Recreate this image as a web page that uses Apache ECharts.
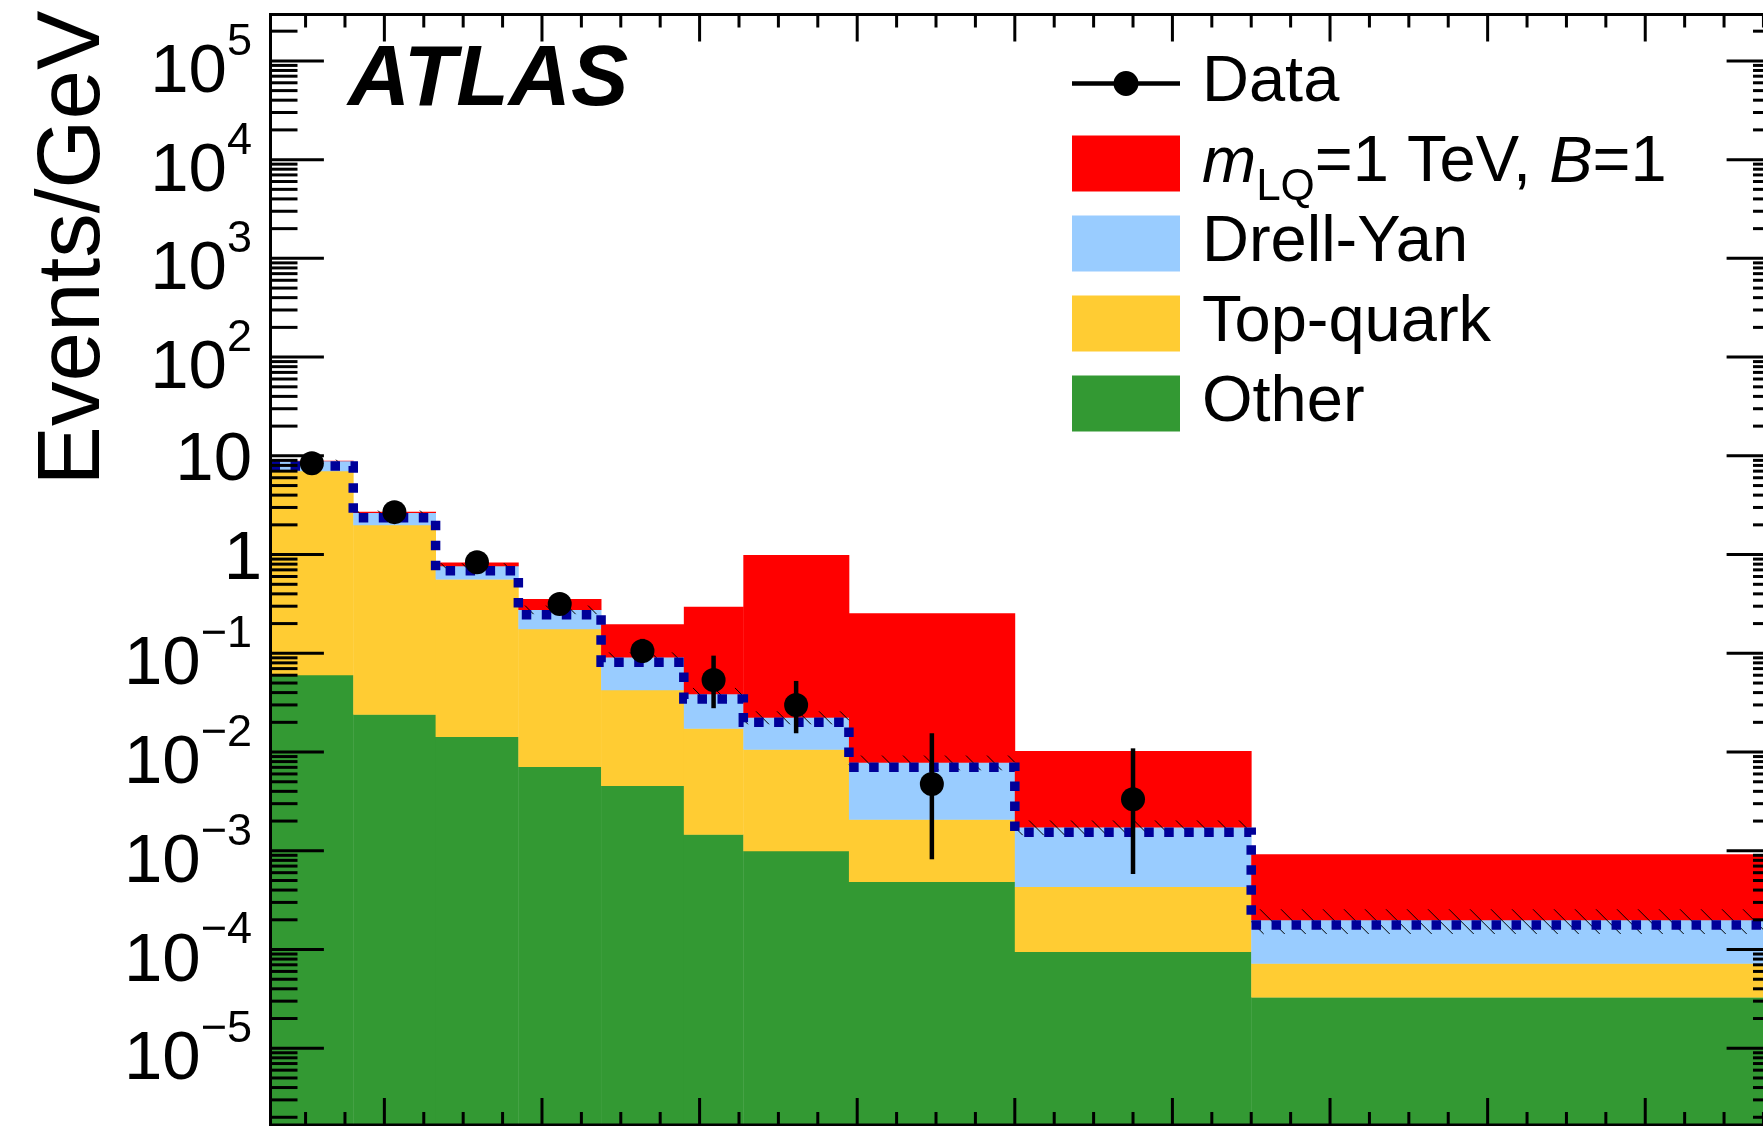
<!DOCTYPE html>
<html>
<head>
<meta charset="utf-8">
<script src="https://cdn.jsdelivr.net/npm/echarts@6/dist/echarts.min.js"></script>
<style>
  html, body { margin: 0; padding: 0; background: #ffffff; }
  #chart { width: 1763px; height: 1126px; }
</style>
</head>
<body>
<div id="chart"></div>
<script>
// ---- histogram binning (GeV) ----
const binEdges = [55.5, 160.5, 265, 370, 475, 580, 655.5, 789.5, 1000, 1300, 1971];

// ---- stacked expectations, events per GeV, bottom to top ----
const other    = [0.0604, 0.0241, 0.0143, 0.00711, 0.00457, 0.00147, 0.000996, 0.000487, 0.0000951, 0.0000329];
const topQuark = [6.98, 1.98, 0.549, 0.170, 0.0380, 0.0159, 0.00968, 0.00160, 0.000338, 0.0000397];
const drellYan = [1.84, 0.654, 0.206, 0.0997, 0.0487, 0.0214, 0.0118, 0.00579, 0.00130, 0.000127];
const signal   = [0.03, 0.05, 0.060, 0.079, 0.106, 0.258, 0.970, 0.247, 0.00854, 0.000723];

// relative uncertainty on the total background (hatched band)
const bkgUncertainty = [0.03, 0.05, 0.06, 0.10, 0.12, 0.15, 0.15, 0.17, 0.17, 0.28];

// ---- observed data, events per GeV, with error bar ends ----
const dataValues  = [8.42, 2.69, 0.837, 0.316, 0.1057, 0.0537, 0.0300, 0.00475, 0.00333, null];
const dataErrLow  = [8.10, 2.50, 0.740, 0.260, 0.080, 0.0278, 0.0155, 0.00082, 0.000582, null];
const dataErrHigh = [8.75, 2.90, 0.940, 0.380, 0.140, 0.0947, 0.0525, 0.0155, 0.0109, null];

// ---- axes ----
const xRange = [55.5, 1971];
const yRange = [1.67e-6, 2.95e5];
const xMinorStep = 50;
const xMajorStep = 200;
const yLabelExponents = [-5, -4, -3, -2, -1, 0, 1, 2, 3, 4, 5];
const yMinorMultipliers = [2, 3, 4, 5, 6, 7, 8, 9];

const FONT = '"Liberation Sans", Arial, Helvetica, sans-serif';
const stackParts  = [other, topQuark, drellYan, signal];
const stackColors = ['#339933', '#ffcc33', '#99ccff', '#ff0000'];
const stackNames  = ['Other', 'Top-quark', 'Drell-Yan', 'mLQ'];

const nBins = binEdges.length - 1;
function stackTop(level, i) {
  let s = 0;
  for (let k = 0; k <= level; k++) s += stackParts[k][i];
  return s;
}
const totalBkg = [];
const binCenters = [];
for (let i = 0; i < nBins; i++) {
  totalBkg.push(stackTop(2, i));
  binCenters.push((binEdges[i] + binEdges[i + 1]) / 2);
}

// stacked histogram fills
const stackSeries = stackParts.map((part, level) => ({
  type: 'custom',
  name: stackNames[level],
  z: 2,
  itemStyle: { color: stackColors[level] },
  data: part.map((v, i) => [binCenters[i], stackTop(level, i), i]),
  renderItem(params, api) {
    const i = api.value(2);
    const lo = level === 0 ? yRange[0] : stackTop(level - 1, i);
    const hi = stackTop(level, i);
    const p0 = api.coord([binEdges[i], lo]);
    const p1 = api.coord([binEdges[i + 1], hi]);
    return {
      type: 'rect',
      shape: { x: p0[0], y: p1[1], width: p1[0] - p0[0] + 0.4, height: p0[1] - p1[1] + 0.4 },
      style: { fill: stackColors[level] }
    };
  }
}));

// hatched uncertainty band around the total background
const hatchSeries = {
  type: 'custom',
  name: 'uncertainty',
  z: 3,
  silent: true,
  data: totalBkg.map((b, i) => [binCenters[i], b, i]),
  renderItem(params, api) {
    const i = api.value(2);
    const b = totalBkg[i], u = bkgUncertainty[i];
    const pa = api.coord([binEdges[i], b * (1 + u)]);
    const pb = api.coord([binEdges[i + 1], b * (1 - u)]);
    const x0 = pa[0], x1 = pb[0], yt = pa[1], yb = pb[1], h = yb - yt;
    const step = 21;
    const children = [];
    for (let c = Math.floor((x0 - h) / step) * step; c < x1; c += step) {
      const xs = Math.max(c, x0), xe = Math.min(c + h, x1);
      if (xe > xs) {
        children.push({
          type: 'line',
          shape: { x1: xs, y1: yt + xs - c, x2: xe, y2: yt + xe - c },
          style: { stroke: '#000000', lineWidth: 1 }
        });
      }
    }
    return { type: 'group', children };
  }
};

// dotted outline of the total background
const outlineSeries = {
  type: 'custom',
  name: 'outline',
  z: 4,
  silent: true,
  data: [[binCenters[0], totalBkg[0], 0]],
  renderItem(params, api) {
    const pts = [];
    for (let i = 0; i < nBins; i++) {
      const a = api.coord([binEdges[i], totalBkg[i]]);
      const b = api.coord([binEdges[i + 1], totalBkg[i]]);
      pts.push([a[0], a[1] + 5], [b[0], b[1] + 5]);
    }
    return {
      type: 'polyline',
      shape: { points: pts },
      style: { stroke: '#000099', lineWidth: 9.5, lineDash: [9.5, 10.5], lineCap: 'butt', lineJoin: 'miter', fill: null }
    };
  }
};

// data error bars
const errorSeries = {
  type: 'custom',
  name: 'errors',
  z: 5,
  silent: true,
  data: dataValues.map((v, i) => [binCenters[i], v, i]).filter(d => d[1] != null),
  renderItem(params, api) {
    const i = api.value(2);
    const a = api.coord([binCenters[i], dataErrHigh[i]]);
    const b = api.coord([binCenters[i], dataErrLow[i]]);
    return {
      type: 'line',
      shape: { x1: a[0], y1: a[1], x2: b[0], y2: b[1] },
      style: { stroke: '#000000', lineWidth: 4.5 }
    };
  }
};

const dataSeries = {
  type: 'scatter',
  name: 'Data',
  z: 6,
  symbol: 'circle',
  symbolSize: 24,
  itemStyle: { color: '#000000', opacity: 1 },
  data: dataValues.map((v, i) => [binCenters[i], v]).filter(d => d[1] != null)
};

// frame with ticks on all four sides
const yTicks = [];
for (let k = -6; k <= 5; k++) {
  [1].concat(yMinorMultipliers).forEach(m => {
    const v = m * Math.pow(10, k);
    if (v >= yRange[0] && v <= yRange[1]) yTicks.push([v, m === 1]);
  });
}
const xTicks = [];
for (let v = Math.ceil(xRange[0] / xMinorStep) * xMinorStep; v <= xRange[1]; v += xMinorStep) {
  xTicks.push([v, v % xMajorStep === 0]);
}

const frameSeries = {
  type: 'custom',
  name: 'frame',
  z: 8,
  silent: true,
  data: [[xRange[0], yRange[0], 0]],
  renderItem(params, api) {
    const tl = api.coord([xRange[0], yRange[1]]);
    const br = api.coord([xRange[1], yRange[0]]);
    const lw = 3;
    const children = [];
    yTicks.forEach(([v, major]) => {
      const y = api.coord([xRange[0], v])[1];
      const len = major ? 53.4 : 27;
      children.push({ type: 'line', shape: { x1: tl[0], y1: y, x2: tl[0] + len, y2: y }, style: { stroke: '#000', lineWidth: lw } });
      children.push({ type: 'line', shape: { x1: br[0] - len, y1: y, x2: br[0], y2: y }, style: { stroke: '#000', lineWidth: lw } });
    });
    xTicks.forEach(([v, major]) => {
      const x = api.coord([v, yRange[0]])[0];
      const len = major ? 27 : 13;
      children.push({ type: 'line', shape: { x1: x, y1: br[1], x2: x, y2: br[1] - len }, style: { stroke: '#000', lineWidth: lw } });
      children.push({ type: 'line', shape: { x1: x, y1: tl[1], x2: x, y2: tl[1] + len }, style: { stroke: '#000', lineWidth: lw } });
    });
    children.push({
      type: 'rect',
      shape: { x: tl[0], y: tl[1], width: br[0] - tl[0], height: br[1] - tl[1] },
      style: { stroke: '#000', lineWidth: lw, fill: null }
    });
    return { type: 'group', children };
  }
};

// y tick labels (powers of ten)
const labelRich = {
  b: { fontFamily: FONT, fontSize: 69, height: 62, lineHeight: 62, verticalAlign: 'bottom', color: '#000' },
  e: { fontFamily: FONT, fontSize: 45, height: 1, lineHeight: 1, verticalAlign: 'top', color: '#000' }
};
const yLabelSeries = {
  type: 'custom',
  name: 'ylabels',
  z: 8,
  silent: true,
  data: yLabelExponents.map(k => [xRange[0], Math.pow(10, k), k]),
  renderItem(params, api) {
    const k = api.value(2);
    const y = api.coord([xRange[0], Math.pow(10, k)])[1];
    let text, dy, x = 252;
    if (k === 0) { text = '{b|1}'; dy = 5; x = 262; }
    else if (k === 1) { text = '{b|10}'; dy = 5; }
    else { text = '{b|10}{e|' + (k < 0 ? '\u2212' + (-k) : String(k)) + '}'; dy = 12; }
    return {
      type: 'text',
      x: x,
      y: y + dy,
      style: {
        text: text,
        rich: labelRich,
        align: 'right', verticalAlign: 'middle',
        textAlign: 'right', textVerticalAlign: 'middle',
        fill: '#000'
      }
    };
  }
};

const dataIcon = 'path://M0,0L0.01,0M108,56L107.99,56M0,25.7L108,25.7L108,30.3L0,30.3Z' +
  'M41.5,28A12.5,12.5,0,1,1,66.5,28A12.5,12.5,0,1,1,41.5,28Z';

// one legend block per entry, stacked at fixed spacing
const legendEntries = [
  { name: 'Data', icon: dataIcon },
  { name: 'mLQ', icon: 'rect' },
  { name: 'Drell-Yan', icon: 'rect' },
  { name: 'Top-quark', icon: 'rect' },
  { name: 'Other', icon: 'rect' }
];
const legendRich = {
  n: { fontFamily: FONT, fontSize: 65, height: 56, lineHeight: 56, color: '#000' },
  i: { fontFamily: FONT, fontSize: 65, height: 56, lineHeight: 56, fontStyle: 'italic', color: '#000' },
  s: { fontFamily: FONT, fontSize: 44, height: 8, lineHeight: 8, verticalAlign: 'bottom', color: '#000' }
};
const legends = legendEntries.map((entry, idx) => ({
  orient: 'vertical',
  left: 1072,
  top: 51 + idx * 80,
  itemWidth: 108,
  itemHeight: 56,
  itemGap: 0,
  padding: 0,
  selectedMode: false,
  data: [entry],
  formatter(name) {
    if (name === 'mLQ') return '{i|m}{s|LQ}{n|=1 TeV, }{i|B}{n|=1}';
    return '{n|' + name + '}';
  },
  textStyle: {
    color: '#000',
    fontFamily: FONT,
    fontSize: 65,
    lineHeight: 56,
    padding: [0, 0, 0, 17],
    rich: legendRich
  }
}));

const option = {
  animation: false,
  backgroundColor: '#ffffff',
  grid: { left: 270.5, top: 14.5, width: 1509.5, height: 1110.5, show: false, outerBoundsMode: 'none' },
  xAxis: { type: 'value', min: xRange[0], max: xRange[1], show: false, splitLine: { show: false } },
  yAxis: { type: 'log', logBase: 10, min: yRange[0], max: yRange[1], show: false, splitLine: { show: false } },
  legend: legends,
  graphic: [
    {
      type: 'text', x: 348, y: 81, z: 10,
      style: {
        text: 'ATLAS', font: 'italic bold 86px ' + FONT, fill: '#000',
        align: 'left', verticalAlign: 'middle', textAlign: 'left', textVerticalAlign: 'middle'
      }
    },
    {
      type: 'text', x: 74.5, y: 248, rotation: Math.PI / 2, z: 10,
      style: {
        text: 'Events/GeV', font: '89px ' + FONT, fill: '#000',
        align: 'center', verticalAlign: 'middle', textAlign: 'center', textVerticalAlign: 'middle'
      }
    }
  ],
  series: [].concat(stackSeries, [hatchSeries, outlineSeries, errorSeries, dataSeries, frameSeries, yLabelSeries])
};

const chart = echarts.init(document.getElementById('chart'), null, { renderer: 'canvas', width: 1763, height: 1126 });
chart.setOption(option);
</script>
</body>
</html>
